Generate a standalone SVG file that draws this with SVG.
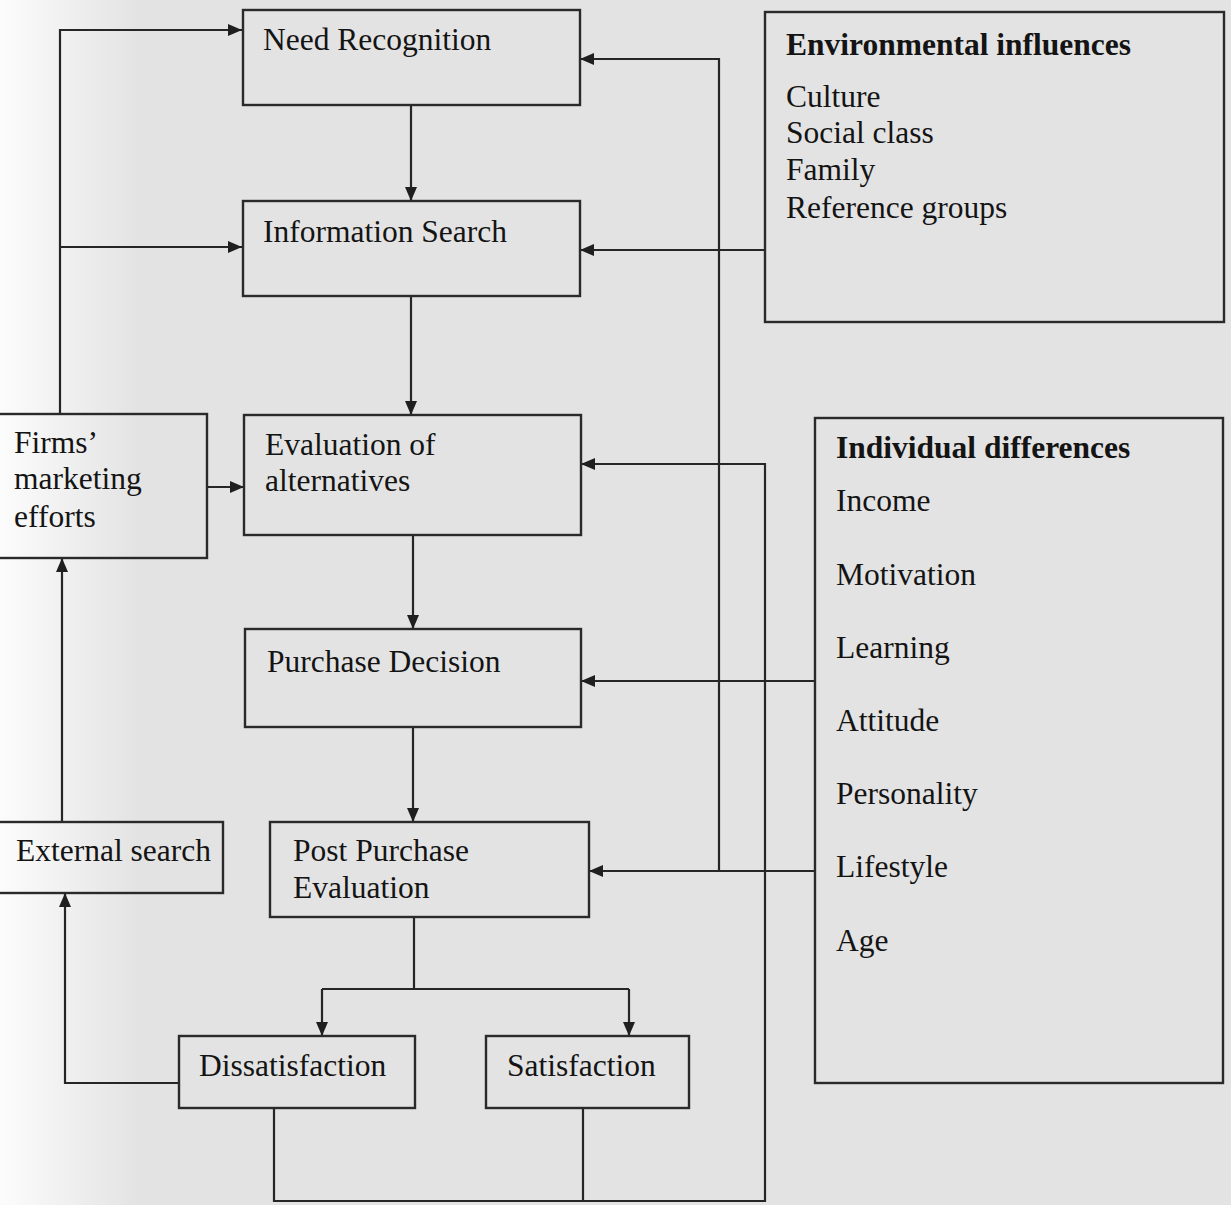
<svg xmlns="http://www.w3.org/2000/svg" width="1231" height="1205" viewBox="0 0 1231 1205">
<defs>
<linearGradient id="edge" x1="0" y1="0" x2="1" y2="0">
<stop offset="0" stop-color="#ffffff" stop-opacity="0.9"/>
<stop offset="1" stop-color="#ffffff" stop-opacity="0"/>
</linearGradient>
<marker id="ah" viewBox="0 0 14 12" refX="14" refY="6" markerWidth="14" markerHeight="12" markerUnits="userSpaceOnUse" orient="auto">
<path d="M0,0 L14,6 L0,12 z" fill="#1f1f1f"/>
</marker>
<style>
.box{fill:none;stroke:#2a2a2a;stroke-width:2.4}
.t{font-family:"Liberation Serif","Times New Roman",serif;font-size:31.5px;fill:#141414}
.b{font-weight:bold}
.c{fill:none;stroke:#262626;stroke-width:2.2}
.a{marker-end:url(#ah)}
</style>
</defs>
<rect x="0" y="0" width="1231" height="1205" fill="#e3e3e3"/>
<rect x="0" y="0" width="140" height="1205" fill="url(#edge)"/>
<g id="connectors">
<path class="c a" d="M60,413 V30 H242"/>
<path class="c a" d="M60,247 H242"/>
<path class="c a" d="M411,105 V201"/>
<path class="c a" d="M411,296 V415"/>
<path class="c a" d="M413,535 V629"/>
<path class="c a" d="M413,727 V822"/>
<path class="c a" d="M207,487 H244"/>
<path class="c a" d="M62,822 V558"/>
<path class="c a" d="M179,1083 H65 V893"/>
<path class="c" d="M414,917 V989"/>
<path class="c" d="M322,989 H629"/>
<path class="c a" d="M322,989 V1036"/>
<path class="c a" d="M629,989 V1036"/>
<path class="c a" d="M274,1108 V1201 H765 V464 H581"/>
<path class="c" d="M583,1108 V1201"/>
<path class="c a" d="M719,871 V59 H580"/>
<path class="c a" d="M815,871 H589"/>
<path class="c a" d="M764,250 H580"/>
<path class="c a" d="M815,681 H581"/>
</g>
<g id="need-recognition">
<rect class="box" x="243" y="10" width="337" height="95"/>
<text class="t" x="263" y="50">Need Recognition</text>
</g>
<g id="information-search">
<rect class="box" x="243" y="201" width="337" height="95"/>
<text class="t" x="263" y="242">Information Search</text>
</g>
<g id="evaluation">
<rect class="box" x="244" y="415" width="337" height="120"/>
<text class="t" x="265" y="455">Evaluation of</text>
<text class="t" x="265" y="491">alternatives</text>
</g>
<g id="purchase-decision">
<rect class="box" x="245" y="629" width="336" height="98"/>
<text class="t" x="267" y="672">Purchase Decision</text>
</g>
<g id="post-purchase">
<rect class="box" x="270" y="822" width="319" height="95"/>
<text class="t" x="293" y="861">Post Purchase</text>
<text class="t" x="293" y="898">Evaluation</text>
</g>
<g id="dissatisfaction">
<rect class="box" x="179" y="1036" width="236" height="72"/>
<text class="t" x="199" y="1076">Dissatisfaction</text>
</g>
<g id="satisfaction">
<rect class="box" x="486" y="1036" width="203" height="72"/>
<text class="t" x="507" y="1076">Satisfaction</text>
</g>
<g id="firms-marketing">
<rect class="box" x="-3" y="414" width="210" height="144"/>
<text class="t" x="14" y="453">Firms’</text>
<text class="t" x="14" y="489">marketing</text>
<text class="t" x="14" y="527">efforts</text>
</g>
<g id="external-search">
<rect class="box" x="-3" y="822" width="226" height="71"/>
<text class="t" x="16" y="861">External search</text>
</g>
<g id="environmental">
<rect class="box" x="765" y="12" width="459" height="310"/>
<text class="t b" x="786" y="55">Environmental influences</text>
<text class="t" x="786" y="107">Culture</text>
<text class="t" x="786" y="143">Social class</text>
<text class="t" x="786" y="180">Family</text>
<text class="t" x="786" y="218">Reference groups</text>
</g>
<g id="individual">
<rect class="box" x="815" y="418" width="408" height="665"/>
<text class="t b" x="836" y="458">Individual differences</text>
<text class="t" x="836" y="511">Income</text>
<text class="t" x="836" y="585">Motivation</text>
<text class="t" x="836" y="658">Learning</text>
<text class="t" x="836" y="731">Attitude</text>
<text class="t" x="836" y="804">Personality</text>
<text class="t" x="836" y="877">Lifestyle</text>
<text class="t" x="836" y="951">Age</text>
</g>
</svg>
